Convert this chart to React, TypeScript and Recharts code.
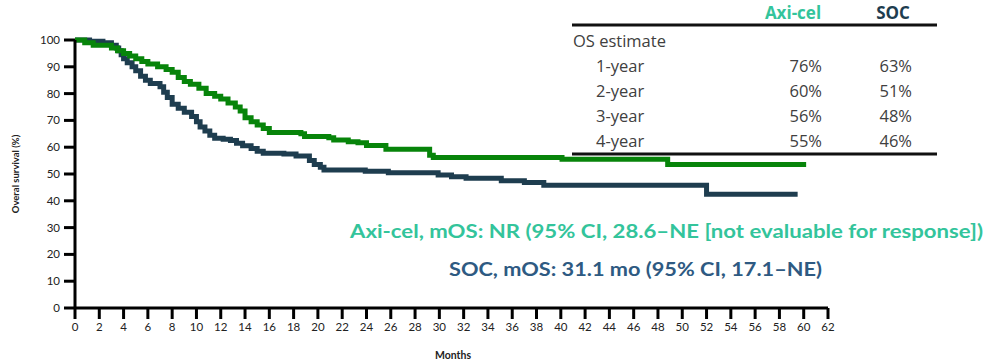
import React from "react";
import { LineChart, Line, XAxis, YAxis } from "recharts";

// Kaplan-Meier steps, overall survival (%) by month
const axiMonths = [0, 0.8, 1.5, 3.0, 3.5, 4.0, 4.5, 5.0, 5.5, 6.0, 6.8, 7.5, 8.0, 8.5, 9.0, 9.5, 10.2, 10.8, 11.5, 12.0, 12.6, 13.2, 13.6, 14.0, 14.5, 15.0, 15.5, 16.0, 18.6, 18.9, 20.9, 21.3, 22.5, 23.3, 24.0, 25.6, 29.2, 29.5, 40.1, 48.8, 60.2];
const axiSurvival = [100, 99, 98, 97, 96, 95, 94, 93, 92, 91, 90, 89, 88, 86, 84.5, 83.5, 82, 80, 79, 78, 76.5, 75, 73.5, 71, 69.5, 68.3, 67, 65.5, 65, 64, 63.5, 62.7, 62, 61.7, 60.6, 59.2, 57, 56.2, 55.5, 53.5, 53.5];

const socMonths = [0, 1.2, 2.3, 3.0, 3.4, 3.6, 3.8, 4.0, 4.3, 4.7, 5.0, 5.4, 5.8, 6.2, 7.0, 7.3, 7.6, 8.0, 8.5, 9.0, 9.6, 10.0, 10.3, 10.7, 11.1, 11.5, 12.2, 12.8, 13.3, 13.8, 14.5, 15.0, 15.5, 17.2, 18.2, 19.3, 19.7, 20.2, 20.5, 23.9, 25.8, 29.9, 31.0, 32.2, 35.1, 37.0, 38.6, 52.0, 59.5];
const socSurvival = [100, 99.5, 99, 98, 97, 96, 94.5, 93, 91.5, 90, 88.5, 86.5, 85, 83.8, 82.6, 80.5, 78.5, 76, 74.5, 73, 71.5, 69.5, 67.5, 66, 64.5, 63.3, 63, 62.5, 61.5, 60.5, 59.5, 58.5, 57.7, 57.5, 56.7, 55, 53.5, 52.5, 51.5, 51, 50.5, 49.6, 49, 48.4, 47.5, 46.8, 45.8, 42.4, 42.4];

const xTicks = [0, 2, 4, 6, 8, 10, 12, 14, 16, 18, 20, 22, 24, 26, 28, 30, 32, 34, 36, 38, 40, 42, 44, 46, 48, 50, 52, 54, 56, 58, 60, 62];
const yTicks = [0, 10, 20, 30, 40, 50, 60, 70, 80, 90, 100];

const estimateRows = ["1-year", "2-year", "3-year", "4-year"];
const axiEstimates = [76, 60, 56, 55];
const socEstimates = [63, 51, 48, 46];

const AXI_LINE = "#07840a";
const SOC_LINE = "#1e3d4f";
const AXI_TEXT = "#33c49b";
const SOC_TEXT = "#2e5a82";
const FONT = "Lato, 'Open Sans', sans-serif";
const TABLE_FONT = "'Open Sans', sans-serif";

const axiData = axiMonths.map((m, i) => ({ month: m, os: axiSurvival[i] }));
const socData = socMonths.map((m, i) => ({ month: m, os: socSurvival[i] }));

const tickStyle = { fill: "#222", fontSize: 11.5, fontFamily: FONT };

export default function App() {
  return (
    <div style={{ position: "absolute", left: 0, top: 0, width: 987, height: 362, background: "#fff" }}>
      <LineChart
        width={987}
        height={362}
        margin={{ top: 40, right: 159, bottom: 0, left: 0 }}
      >
        <XAxis
          type="number"
          dataKey="month"
          domain={[0, 62]}
          ticks={xTicks}
          interval={0}
          height={54}
          stroke="#000"
          axisLine={{ strokeWidth: 3 }}
          tickLine={{ strokeWidth: 3 }}
          tickSize={11}
          tickMargin={4}
          tick={tickStyle}
        />
        <YAxis
          type="number"
          domain={[0, 100]}
          ticks={yTicks}
          interval={0}
          width={75}
          stroke="#000"
          axisLine={{ strokeWidth: 3 }}
          tickLine={{ strokeWidth: 3 }}
          tickSize={11}
          tickMargin={4}
          tick={tickStyle}
        />
        <Line data={socData} dataKey="os" type="stepAfter" stroke={SOC_LINE} strokeWidth={5} dot={false} isAnimationActive={false} />
        <Line data={axiData} dataKey="os" type="stepAfter" stroke={AXI_LINE} strokeWidth={5} dot={false} isAnimationActive={false} />
      </LineChart>

      <svg
        width={987}
        height={362}
        style={{ position: "absolute", left: 0, top: 0, pointerEvents: "none" }}
        fontFamily={FONT}
      >
        <text x={17} y={174} transform="rotate(-90 17 174)" textAnchor="middle" dominantBaseline="middle" fontSize={9.5} fontWeight={700} fill="#222">
          Overal survival (%)
        </text>
        <text x={453} y={356} textAnchor="middle" dominantBaseline="middle" fontSize={10.5} fontWeight={700} fill="#222">
          Months
        </text>

        {/* estimates table */}
        <g fontFamily={TABLE_FONT}>
          <text x={793} y={14} textAnchor="middle" dominantBaseline="middle" fontSize={17} fontWeight={700} fill={AXI_TEXT}>Axi-cel</text>
          <text x={893} y={14} textAnchor="middle" dominantBaseline="middle" fontSize={17} fontWeight={700} fill={SOC_LINE}>SOC</text>
          <line x1={572} x2={937} y1={25} y2={25} stroke="#111" strokeWidth={3} />
          <text x={573} y={43} dominantBaseline="middle" fontSize={16.5} fill="#404040">OS estimate</text>
          {estimateRows.map((r, i) => (
            <g key={r}>
              <text x={596} y={68 + i * 25} dominantBaseline="middle" fontSize={16.5} fill="#404040">{r}</text>
              <text x={822} y={68 + i * 25} textAnchor="end" dominantBaseline="middle" fontSize={16.5} fill="#404040">{axiEstimates[i]}%</text>
              <text x={912} y={68 + i * 25} textAnchor="end" dominantBaseline="middle" fontSize={16.5} fill="#404040">{socEstimates[i]}%</text>
            </g>
          ))}
          <line x1={572} x2={937} y1={154} y2={154} stroke="#111" strokeWidth={3} />
        </g>

        <text x={350} y={233} textLength={633} lengthAdjust="spacingAndGlyphs" dominantBaseline="middle" fontSize={19} fontWeight={700} fill={AXI_TEXT}>
          Axi-cel, mOS: NR (95% CI, 28.6–NE [not evaluable for response])
        </text>
        <text x={449} y={271} textLength={373} lengthAdjust="spacingAndGlyphs" dominantBaseline="middle" fontSize={19} fontWeight={700} fill={SOC_TEXT}>
          SOC, mOS: 31.1 mo (95% CI, 17.1–NE)
        </text>
      </svg>
    </div>
  );
}
